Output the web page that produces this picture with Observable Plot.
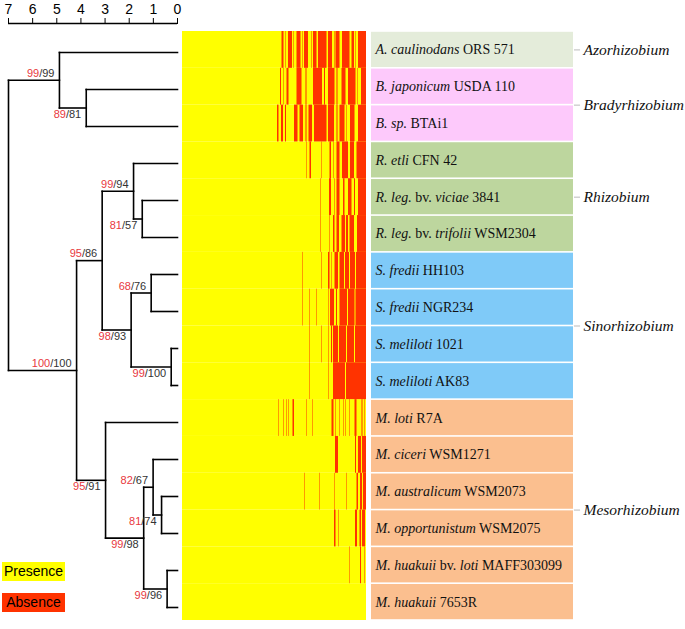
<!DOCTYPE html>
<html><head><meta charset="utf-8">
<script src="https://cdn.jsdelivr.net/npm/d3@7"></script>
<script src="https://cdn.jsdelivr.net/npm/@observablehq/plot@0.6"></script>
<style>
body{margin:0;background:#fff;}
#chart{position:relative;width:685px;height:629px;overflow:hidden;background:#fff;}
#chart svg{position:absolute;overflow:visible;}
#chart text{white-space:pre;}
.legend{position:absolute;left:2px;width:63px;height:19px;font:14px "Liberation Sans",Arial,sans-serif;line-height:19px;text-align:center;color:#000;}
</style></head><body><div id="chart"></div>
<script>
// ---------------- data ----------------
const speciesLabels = [
  "*A. caulinodans* ORS 571",
  "*B. japonicum* USDA 110",
  "*B. sp.* BTAi1",
  "*R. etli* CFN 42",
  "*R. leg.* bv. *viciae* 3841",
  "*R. leg.* bv. *trifolii* WSM2304",
  "*S. fredii* HH103",
  "*S. fredii* NGR234",
  "*S. meliloti* 1021",
  "*S. meliloti* AK83",
  "*M. loti* R7A",
  "*M. ciceri* WSM1271",
  "*M. australicum* WSM2073",
  "*M. opportunistum* WSM2075",
  "*M. huakuii* bv. *loti* MAFF303099",
  "*M. huakuii* 7653R"
];
const speciesGenus = ["Azorhizobium","Bradyrhizobium","Bradyrhizobium","Rhizobium","Rhizobium","Rhizobium",
  "Sinorhizobium","Sinorhizobium","Sinorhizobium","Sinorhizobium",
  "Mesorhizobium","Mesorhizobium","Mesorhizobium","Mesorhizobium","Mesorhizobium","Mesorhizobium"];
const genusNames = ["Azorhizobium","Bradyrhizobium","Rhizobium","Sinorhizobium","Mesorhizobium"];
const genusColors = ["#e4ecda","#fdc9fb","#bdd69e","#7fcaf8","#fbbf8f"];

// tree: internal nodes (children are node ids or "L<leaf index>")
const nodeIds      = ["root","A","Brady","RSM","RS","Rhiz","leg","Sino","fredii","mel","Meso","MB","CAO","AO","H"];
const nodeHeights  = [7.0, 4.89, 3.78, 4.18, 3.12, 1.82, 1.46, 1.92, 1.09, 0.26, 2.98, 1.40, 1.01, 0.66, 0.43];
const nodeChildren = [["A","RSM"],["L0","Brady"],["L1","L2"],["RS","Meso"],["Rhiz","Sino"],["L3","leg"],["L4","L5"],
  ["fredii","mel"],["L6","L7"],["L8","L9"],["L10","MB"],["CAO","H"],["L11","AO"],["L12","L13"],["L14","L15"]];
const supportML    = [null, 99, 89, 100, 95, 99, 81, 98, 68, 99, 95, 99, 82, 81, 99];
const supportNJ    = [null, 99, 81, 100, 86, 94, 57, 93, 76, 100, 91, 98, 67, 74, 96];

const axisTicks = [0,1,2,3,4,5,6,7];

// presence/absence heatmap: absent gene runs [start, end) per genome, over 368 gene clusters
const N_GENES = 368;
const absentRuns = [
  [[199,203],[207,208],[212,220],[223,224],[229,237],[241,242],[244,252],[259,260],[262,269],[272,289],[292,300],[304,305],[307,315],[320,335],[339,344],[347,348],[352,368]],
  [[196,198],[202,203],[209,213],[229,239],[247,249],[262,280],[284,286],[292,305],[309,311],[319,327],[332,347],[351,352],[358,368]],
  [[190,193],[198,202],[206,208],[224,231],[235,242],[247,249],[253,260],[264,289],[292,304],[309,311],[315,325],[329,330],[336,345],[352,368]],
  [[249,250],[255,258],[279,280],[295,298],[303,304],[309,315],[320,332],[336,344],[349,368]],
  [[277,278],[294,298],[304,305],[309,315],[322,325],[332,339],[344,346],[352,368]],
  [[277,278],[295,296],[302,305],[309,314],[319,326],[328,332],[335,344],[350,368]],
  [[241,242],[279,280],[292,295],[299,300],[305,312],[315,324],[326,334],[336,346],[348,368]],
  [[241,242],[255,256],[269,270],[292,293],[296,304],[308,310],[315,330],[332,345],[347,368]],
  [[255,256],[279,280],[292,293],[298,300],[302,312],[314,328],[330,344],[346,368]],
  [[255,256],[292,293],[302,326],[328,368]],
  [[192,193],[202,203],[209,210],[212,213],[221,224],[249,250],[261,262],[299,303],[307,308],[315,316],[322,323],[327,328],[335,336],[345,349],[359,361],[364,365]],
  [[306,312],[346,348],[352,358],[360,368]],
  [[245,246],[275,276],[305,306],[329,330],[349,352],[356,360],[362,368]],
  [[304,307],[312,313],[346,350],[355,358],[360,366]],
  [[335,336],[356,358],[365,366]],
  []
];

// ---------------- derived tables ----------------
const nodeIdx = Object.fromEntries(nodeIds.map((id,i)=>[id,i]));
function nodePos(id){
  if (id[0]==="L") return {x:0, y:+id.slice(1)};
  const i = nodeIdx[id];
  const [a,b] = nodeChildren[i].map(nodePos);
  return {x:nodeHeights[i], y:(a.y+b.y)/2, ya:a.y, yb:b.y};
}
const segments = [], supports = [];
nodeIds.forEach((id,i)=>{
  const p = nodePos(id);
  segments.push({x1:p.x, x2:p.x, y1:p.ya, y2:p.yb});
  nodeChildren[i].forEach((c,k)=>{
    const q = nodePos(c);
    segments.push({x1:p.x, x2:q.x, y1:q.y, y2:q.y});
    if (c[0]!=="L"){
      const j = nodeIdx[c];
      supports.push({x:q.x, y:q.y, t:`${supportML[j]}/${supportNJ[j]}`, above:(k===0 || id==="root")});
    }
  });
});
const rows = speciesLabels.map((s,i)=>({i, label:s, color:genusColors[genusNames.indexOf(speciesGenus[i])]}));
const absent = absentRuns.flatMap((runs,i)=>runs.map(([s,e])=>({i,s,e})));
const genera = genusNames.map(g=>{
  const idx = speciesGenus.map((s,i)=>s===g?i:null).filter(v=>v!==null);
  return {name:g, y:d3.mean(idx)};
});

// ---------------- plots ----------------
const chart = document.getElementById("chart");
const sans = "Liberation Sans, Arial, sans-serif";
const serif = "Liberation Serif, Times New Roman, serif";

// dendrogram
const LEAF_STEP = 37, AXIS_Y = 23, FIRST_LEAF = 52, H = 629;
const yTop = -(FIRST_LEAF-AXIS_Y)/LEAF_STEP, yBot = yTop + (H-AXIS_Y)/LEAF_STEP;
const dendro = Plot.plot({
  width:185, height:H, marginLeft:8, marginRight:8, marginTop:AXIS_Y, marginBottom:0,
  x:{domain:[7,0], axis:"top", ticks:axisTicks, tickSize:6, tickPadding:4, tickFormat:d=>String(d), label:null},
  y:{domain:[yTop,yBot], reverse:true, axis:null},
  style:{fontFamily:sans, fontSize:"14px", background:"transparent", color:"#000"},
  marks:[
    Plot.ruleY([yTop], {x1:7, x2:0, stroke:"#000", strokeWidth:1.3}),
    Plot.link(segments, {x1:"x1", y1:"y1", x2:"x2", y2:"y2", stroke:"#000", strokeWidth:1.6, strokeLinecap:"square"}),
    Plot.text(supports.filter(d=>d.above), {x:"x", y:"y", text:"t", textAnchor:"end", dx:-5, dy:-7, fontSize:11, fill:"#333", fontFamily:sans}),
    Plot.text(supports.filter(d=>!d.above), {x:"x", y:"y", text:"t", textAnchor:"end", dx:-5, dy:6, fontSize:11, fill:"#333", fontFamily:sans})
  ]
});
dendro.style.left="0px"; dendro.style.top="0px";
chart.appendChild(dendro);
d3.select(dendro).selectAll("text").each(function(){
  const t = this.textContent;
  const m = t.match(/^(\d+)(\/\d+)$/);
  if (!m) return;
  const s = d3.select(this); s.text(null);
  s.append("tspan").attr("fill","#e8383d").text(m[1]);
  s.append("tspan").attr("fill","#333").text(m[2]);
});

// heatmap
const heat = Plot.plot({
  width:184, height:H, marginTop:31, marginBottom:9, marginLeft:0, marginRight:0,
  x:{domain:[0,N_GENES], axis:null},
  y:{domain:[-0.5,15.5], reverse:true, axis:null},
  style:{background:"transparent"},
  marks:[
    Plot.rect(rows, {x1:0, x2:N_GENES, y1:d=>d.i-0.5, y2:d=>d.i+0.5, fill:"#ffff00"}),
    Plot.rect(absent, {x1:"s", x2:"e", y1:d=>d.i-0.5, y2:d=>d.i+0.5, fill:"#ff3300"})
  ]
});
heat.style.left="182px"; heat.style.top="0px";
chart.appendChild(heat);

// labels
const labels = Plot.plot({
  width:314, height:H, marginTop:31, marginBottom:9, marginLeft:0, marginRight:112,
  x:{domain:[0,1], axis:null},
  y:{domain:[-0.5,15.5], reverse:true, axis:null},
  style:{background:"transparent"},
  marks:[
    Plot.rect(rows, {x1:0, x2:1, y1:d=>d.i-0.5, y2:d=>d.i+0.5, fill:"color", insetTop:0.8, insetBottom:0.8}),
    Plot.text(rows, {x:0, y:"i", text:"label", textAnchor:"start", dx:4, fontSize:14, fontFamily:serif, fill:"#111"}),
    Plot.ruleY(genera, {y:"y", x1:1.005, x2:1.035, stroke:"#bbbbbb", strokeWidth:1}),
    Plot.text(genera, {x:1, y:"y", text:"name", textAnchor:"start", dx:10, fontSize:15.5, fontStyle:"italic", fontFamily:serif, fill:"#111"})
  ]
});
labels.style.left="371px"; labels.style.top="0px";
chart.appendChild(labels);
d3.select(labels).selectAll("text").each(function(){
  const t = this.textContent;
  if (!t.includes("*")) return;
  const s = d3.select(this); s.text(null);
  t.split("*").forEach((p,k)=>{ if (p) s.append("tspan").attr("font-style", k%2 ? "italic" : "normal").text(p); });
});

// legend
const legendItems = [{name:"Presence", color:"#ffff00", top:562},{name:"Absence", color:"#ff3300", top:593}];
legendItems.forEach(d=>{
  const el = document.createElement("div");
  el.className = "legend"; el.style.top = d.top+"px"; el.style.background = d.color; el.textContent = d.name;
  chart.appendChild(el);
});
</script></body></html>
